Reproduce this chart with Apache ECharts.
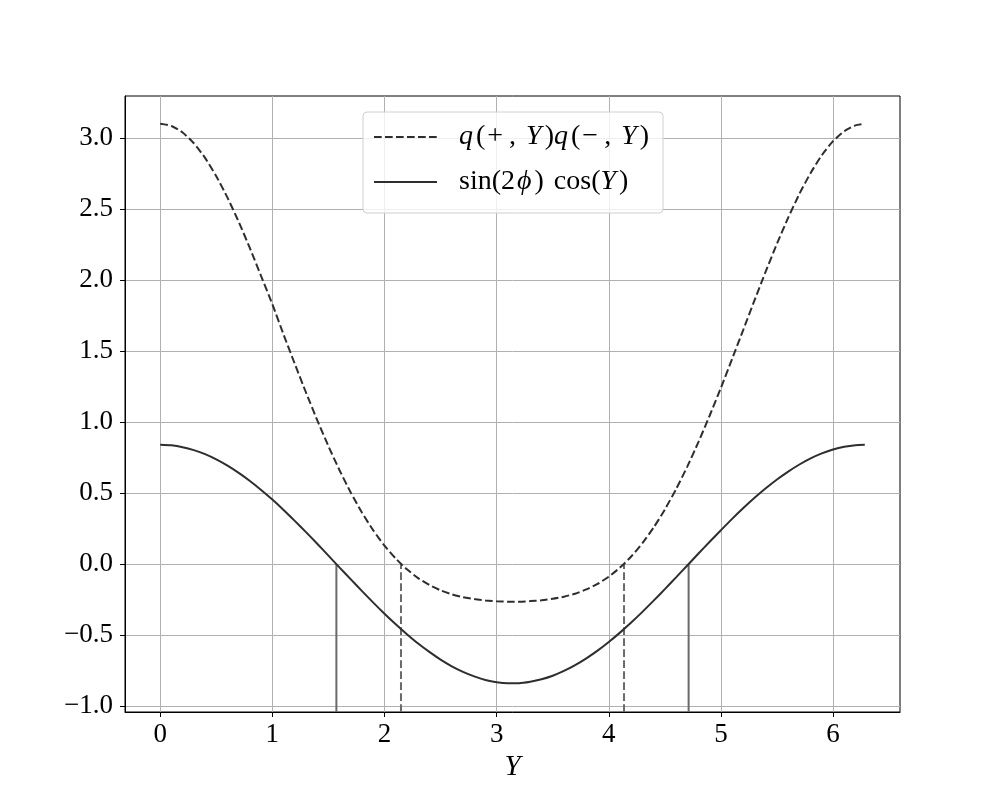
<!DOCTYPE html>
<html>
<head>
<meta charset="utf-8">
<script src="https://cdn.jsdelivr.net/npm/echarts@6/dist/echarts.min.js"></script>
<style>
html,body{margin:0;padding:0;background:#fff;}
#c{width:1000px;height:800px;}
</style>
</head>
<body>
<div id="c"></div>
<script>
// Sample positions along Y
const yValues = [0.0, 0.1, 0.2, 0.3, 0.4, 0.5, 0.6, 0.7, 0.8, 0.9,
  1.0, 1.1, 1.2, 1.3, 1.4, 1.5, 1.6, 1.7, 1.8, 1.9,
  2.0, 2.1, 2.2, 2.3, 2.4, 2.5, 2.6, 2.7, 2.8, 2.9,
  3.0, 3.1, 3.2, 3.3, 3.4, 3.5, 3.6, 3.7, 3.8, 3.9,
  4.0, 4.1, 4.2, 4.3, 4.4, 4.5, 4.6, 4.7, 4.8, 4.9,
  5.0, 5.1, 5.2, 5.3, 5.4, 5.5, 5.6, 5.7, 5.8, 5.9,
  6.0, 6.1, 6.2, 6.283];
// dashed curve q(+,Y)q(-,Y)
const qProduct = [3.100, 3.085, 3.039, 2.963, 2.860, 2.731, 2.580, 2.410, 2.224, 2.027,
  1.830, 1.616, 1.410, 1.208, 1.014, 0.830, 0.659, 0.502, 0.361, 0.237,
  0.130, 0.039, -0.037, -0.099, -0.147, -0.185, -0.213, -0.233, -0.247, -0.257,
  -0.262, -0.265, -0.265, -0.261, -0.255, -0.245, -0.230, -0.209, -0.179, -0.140,
  -0.089, -0.025, 0.053, 0.147, 0.257, 0.384, 0.527, 0.686, 0.860, 1.046,
  1.241, 1.445, 1.651, 1.858, 2.061, 2.256, 2.439, 2.607, 2.754, 2.879,
  2.978, 3.048, 3.089, 3.100];
// solid curve sin(2phi)cos(Y)
const sinCos = [0.840, 0.836, 0.823, 0.802, 0.774, 0.737, 0.693, 0.642, 0.585, 0.522,
  0.454, 0.381, 0.304, 0.225, 0.143, 0.059, -0.025, -0.108, -0.191, -0.272,
  -0.350, -0.424, -0.494, -0.560, -0.619, -0.673, -0.720, -0.759, -0.791, -0.816,
  -0.832, -0.839, -0.839, -0.829, -0.812, -0.787, -0.753, -0.712, -0.664, -0.610,
  -0.549, -0.483, -0.412, -0.337, -0.258, -0.177, -0.094, -0.010, 0.074, 0.157,
  0.238, 0.318, 0.394, 0.466, 0.533, 0.595, 0.651, 0.701, 0.744, 0.779,
  0.807, 0.826, 0.837, 0.840];
// zero crossings (vertical marker lines)
const solidZeros = [1.571, 4.712];
const dashedZeros = [2.147, 4.136];
// axis ticks
const xTicks = [0, 1, 2, 3, 4, 5, 6];
const yTicks = [-1.0, -0.5, 0.0, 0.5, 1.0, 1.5, 2.0, 2.5, 3.0];
const xRange = [-0.314, 6.597];
const yRange = [-1.042, 3.296];
const seriesNames = ['q(+,Y)q(−,Y)', 'sin(2ϕ)cos(Y)'];

const FONT = 'Liberation Serif';
const curveColor = '#2e2e2e';
const markerColor = '#6a6a6a';
const DASH = [7.7, 3.3];

function pairs(xs, ys) { return xs.map((x, i) => [x, ys[i]]); }
function vline(x) { return [[x, yRange[0]], [x, 0]]; }

const series = [
  {
    name: seriesNames[0], type: 'line', data: pairs(yValues, qProduct),
    smooth: 0.2, symbol: 'none', z: 5,
    lineStyle: { color: curveColor, width: 2, type: DASH },
    itemStyle: { color: curveColor }
  },
  {
    name: seriesNames[1], type: 'line', data: pairs(yValues, sinCos),
    smooth: 0.2, symbol: 'none', z: 5,
    lineStyle: { color: curveColor, width: 2, type: 'solid' },
    itemStyle: { color: curveColor }
  }
];
solidZeros.forEach(x => series.push({
  type: 'line', data: vline(x), symbol: 'none', silent: true, z: 4,
  lineStyle: { color: markerColor, width: 2, type: 'solid' }
}));
dashedZeros.forEach(x => series.push({
  type: 'line', data: vline(x), symbol: 'none', silent: true, z: 4,
  lineStyle: { color: markerColor, width: 2, type: DASH }
}));

const base = { fontFamily: FONT, fontSize: 28, color: '#000', lineHeight: 32 };
const rich = {
  i: Object.assign({}, base, { fontStyle: 'italic' }),
  ip: Object.assign({}, base, { fontStyle: 'italic', padding: [0, 3, 0, 0] }),
  n: Object.assign({}, base),
  o: Object.assign({}, base, { padding: [0, 6, 0, 2] }),
  s: Object.assign({}, base, { width: 10 }),
  f: Object.assign({}, base, { fontStyle: 'italic', padding: [0, 3, 0, 2] })
};

const chart = echarts.init(document.getElementById('c'), null, { renderer: 'canvas' });
chart.setOption({
  animation: false,
  backgroundColor: '#fff',
  grid: { left: 125, right: 100, top: 96, bottom: 88, show: true, borderColor: '#000', borderWidth: 1, backgroundColor: 'transparent' },
  legend: {
    data: seriesNames,
    orient: 'vertical',
    left: 363, top: 112,
    itemWidth: 63, itemHeight: 14, itemGap: 13,
    padding: [9, 14, 15, 10],
    backgroundColor: 'rgba(255,255,255,0.8)',
    borderColor: '#d0d0d0', borderWidth: 1, borderRadius: 4,
    itemStyle: { opacity: 0 },
    textStyle: Object.assign({}, base, { padding: [0, 0, 0, 17], rich: rich }),
    formatter: function (name) {
      if (name === seriesNames[0]) return '{ip|q}{n|(}{o|+}{n|,}{s|}{ip|Y}{n|)}{ip|q}{n|(}{o|−}{n|,}{s|}{ip|Y}{n|)}';
      return '{n|sin(2}{f|ϕ}{n|)}{s|}{n|cos(}{ip|Y}{n|)}';
    }
  },
  xAxis: {
    type: 'value', min: xRange[0], max: xRange[1],
    name: 'Y', nameLocation: 'middle', nameGap: 38,
    nameTextStyle: { fontFamily: FONT, fontStyle: 'italic', fontSize: 29, color: '#000' },
    axisLine: { show: true, onZero: false, lineStyle: { color: '#000', width: 1 } },
    axisTick: { show: true, length: 5, inside: false, lineStyle: { color: '#000' }, customValues: xTicks },
    axisLabel: { customValues: xTicks, fontFamily: FONT, fontSize: 27, color: '#000', margin: 9,
      formatter: v => String(v) },
    splitLine: { show: true, lineStyle: { color: '#b0b0b0', width: 1 } }
  },
  yAxis: {
    type: 'value', min: yRange[0], max: yRange[1],
    axisLine: { show: true, onZero: false, lineStyle: { color: '#000', width: 1 } },
    axisTick: { show: true, length: 5, inside: false, lineStyle: { color: '#000' }, customValues: yTicks },
    axisLabel: { customValues: yTicks, fontFamily: FONT, fontSize: 27, color: '#000', margin: 12,
      formatter: v => { const s = Math.abs(v).toFixed(1); return (v < -1e-9 ? '−' : '') + s; } },
    splitLine: { show: true, lineStyle: { color: '#b0b0b0', width: 1 } }
  },
  series: series
});
</script>
</body>
</html>
